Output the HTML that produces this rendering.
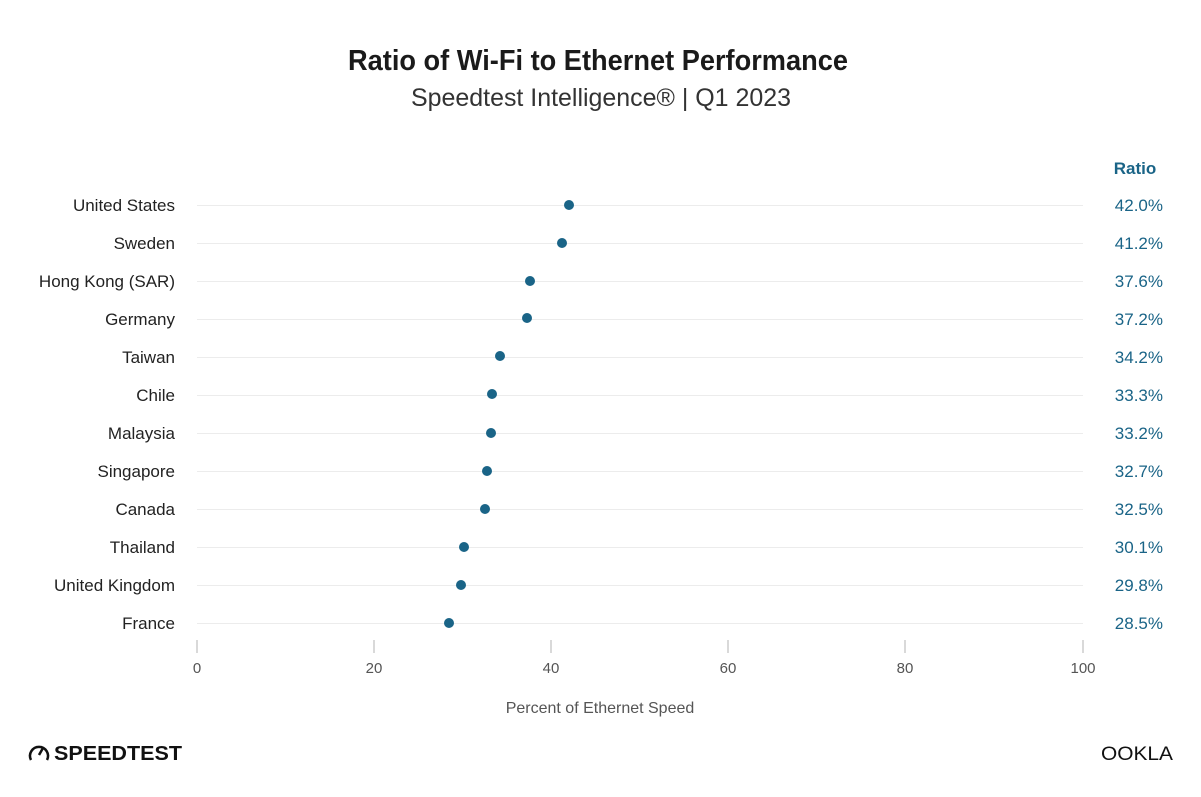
<!DOCTYPE html>
<html><head><meta charset="utf-8"><style>
html,body{margin:0;padding:0;background:#fff;}
svg{display:block;font-family:"Liberation Sans",sans-serif;}
</style></head><body>
<svg width="1201" height="797" viewBox="0 0 1201 797">
<text x="598" y="70" text-anchor="middle" font-size="29" font-weight="bold" fill="#1a1a1a" textLength="500" lengthAdjust="spacingAndGlyphs">Ratio of Wi-Fi to Ethernet Performance</text>
<text x="601" y="106" text-anchor="middle" font-size="25" fill="#333" textLength="380" lengthAdjust="spacingAndGlyphs">Speedtest Intelligence® | Q1 2023</text>
<text x="1135" y="174" text-anchor="middle" font-size="17" font-weight="bold" fill="#1a6487">Ratio</text>
<g font-size="17" fill="#222" text-anchor="end">
<text x="175" y="211">United States</text>
<text x="175" y="249">Sweden</text>
<text x="175" y="287">Hong Kong (SAR)</text>
<text x="175" y="325">Germany</text>
<text x="175" y="363">Taiwan</text>
<text x="175" y="401">Chile</text>
<text x="175" y="439">Malaysia</text>
<text x="175" y="477">Singapore</text>
<text x="175" y="515">Canada</text>
<text x="175" y="553">Thailand</text>
<text x="175" y="591">United Kingdom</text>
<text x="175" y="629">France</text>
</g>
<g font-size="17" fill="#1a6487" text-anchor="end">
<text x="1163" y="211">42.0%</text>
<text x="1163" y="249">41.2%</text>
<text x="1163" y="287">37.6%</text>
<text x="1163" y="325">37.2%</text>
<text x="1163" y="363">34.2%</text>
<text x="1163" y="401">33.3%</text>
<text x="1163" y="439">33.2%</text>
<text x="1163" y="477">32.7%</text>
<text x="1163" y="515">32.5%</text>
<text x="1163" y="553">30.1%</text>
<text x="1163" y="591">29.8%</text>
<text x="1163" y="629">28.5%</text>
</g>
<g stroke="#ececec" stroke-width="1">
<line x1="197" x2="1083" y1="205.5" y2="205.5"/><line x1="197" x2="1083" y1="243.5" y2="243.5"/>
<line x1="197" x2="1083" y1="281.5" y2="281.5"/><line x1="197" x2="1083" y1="319.5" y2="319.5"/>
<line x1="197" x2="1083" y1="357.5" y2="357.5"/><line x1="197" x2="1083" y1="395.5" y2="395.5"/>
<line x1="197" x2="1083" y1="433.5" y2="433.5"/><line x1="197" x2="1083" y1="471.5" y2="471.5"/>
<line x1="197" x2="1083" y1="509.5" y2="509.5"/><line x1="197" x2="1083" y1="547.5" y2="547.5"/>
<line x1="197" x2="1083" y1="585.5" y2="585.5"/><line x1="197" x2="1083" y1="623.5" y2="623.5"/>
</g>
<g fill="#1a6487">
<circle cx="569" cy="205" r="5"/><circle cx="562" cy="243" r="5"/>
<circle cx="530" cy="281" r="5"/><circle cx="527" cy="318" r="5"/>
<circle cx="500" cy="356" r="5"/><circle cx="492" cy="394" r="5"/>
<circle cx="491" cy="433" r="5"/><circle cx="487" cy="471" r="5"/>
<circle cx="485" cy="509" r="5"/><circle cx="464" cy="547" r="5"/>
<circle cx="461" cy="585" r="5"/><circle cx="449" cy="623" r="5"/>
</g>
<g stroke="#ccc" stroke-width="1.5">
<line x1="197" x2="197" y1="640" y2="653"/><line x1="374" x2="374" y1="640" y2="653"/>
<line x1="551" x2="551" y1="640" y2="653"/><line x1="728" x2="728" y1="640" y2="653"/>
<line x1="905" x2="905" y1="640" y2="653"/><line x1="1083" x2="1083" y1="640" y2="653"/>
</g>
<g font-size="15" fill="#555" text-anchor="middle">
<text x="197" y="673">0</text><text x="374" y="673">20</text><text x="551" y="673">40</text>
<text x="728" y="673">60</text><text x="905" y="673">80</text><text x="1083" y="673">100</text>
</g>
<text x="600" y="713" text-anchor="middle" font-size="16" fill="#555">Percent of Ethernet Speed</text>
<g>
<path d="M31 760 A9 9 0 1 1 47 760" fill="none" stroke="#111" stroke-width="2.5"/>
<line x1="39" y1="755" x2="43" y2="748" stroke="#111" stroke-width="2.5"/>
<text x="54" y="760" font-size="20" font-weight="bold" fill="#111" textLength="128" lengthAdjust="spacingAndGlyphs">SPEEDTEST</text>
</g>
<text x="1101" y="760" font-size="19" fill="#111" textLength="72" lengthAdjust="spacingAndGlyphs">OOKLA</text>
</svg>
</body></html>
